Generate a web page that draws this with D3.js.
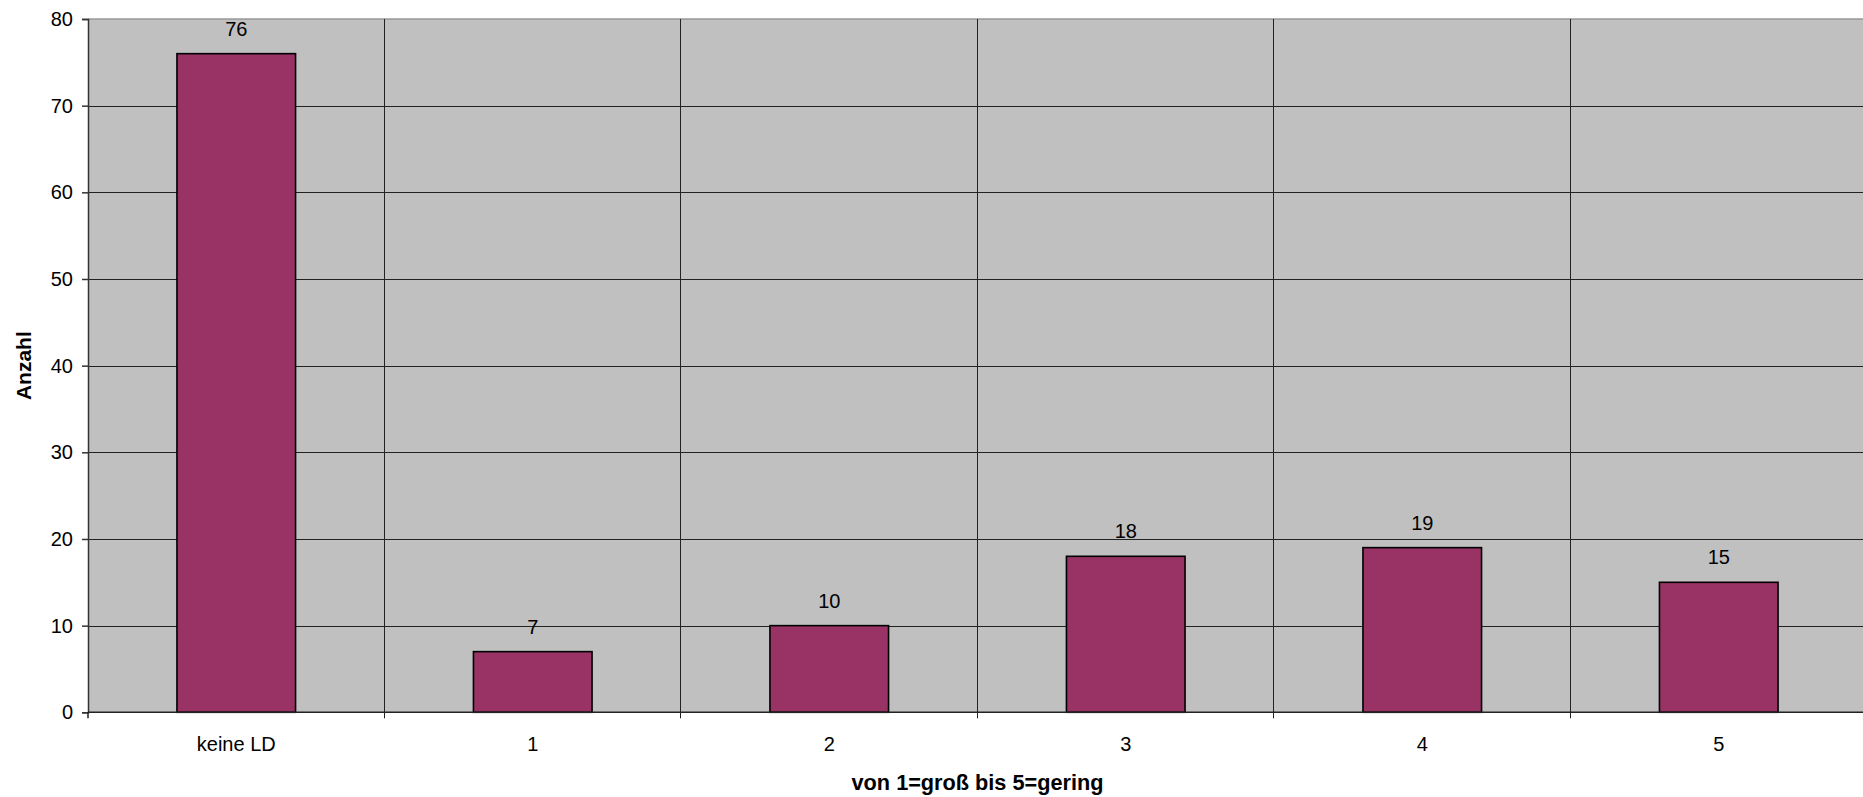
<!DOCTYPE html>
<html>
<head>
<meta charset="utf-8">
<script src="https://cdn.jsdelivr.net/npm/d3@7"></script>
<style>
  html, body { margin: 0; padding: 0; background: #fff; }
  svg { display: block; }
  text { font-family: "Liberation Sans", Arial, sans-serif; fill: #000; }
</style>
</head>
<body>
<script>
const categories = ["keine LD", "1", "2", "3", "4", "5"];
const values = [76, 7, 10, 18, 19, 15];
const yTicks = [0, 10, 20, 30, 40, 50, 60, 70, 80];
const xTitle = "von 1=groß bis 5=gering";
const yTitle = "Anzahl";

const W = 1863, H = 797;
const pLeft = 88, pRight = 1867, pTop = 19, pBottom = 712.3;

const svg = d3.select("body").append("svg").attr("width", W).attr("height", H);

const x = d3.scaleBand().domain(categories).range([pLeft, pRight]).paddingInner(0.6).paddingOuter(0.3);
const xb = d3.scaleBand().domain(categories).range([pLeft, pRight]);
const y = d3.scaleLinear().domain([0, 80]).range([pBottom, pTop]);

// plot background
svg.append("rect").attr("x", pLeft).attr("y", pTop).attr("width", pRight - pLeft).attr("height", pBottom - pTop)
  .attr("fill", "#c0c0c0");

// top border
svg.append("line").attr("x1", pLeft).attr("x2", pRight).attr("y1", pTop).attr("y2", pTop)
  .attr("stroke", "#999").attr("stroke-width", 1.5);

// horizontal gridlines
svg.append("g").selectAll("line").data(yTicks.filter(d => d > 0 && d < 80)).join("line")
  .attr("x1", pLeft).attr("x2", pRight)
  .attr("y1", d => Math.round(y(d)) + 0.5).attr("y2", d => Math.round(y(d)) + 0.5)
  .attr("stroke", "#222").attr("stroke-width", 1);

// vertical gridlines at category boundaries, with ticks below axis
const bounds = categories.slice(1).map(c => xb(c));
svg.append("g").selectAll("line").data(bounds).join("line")
  .attr("x1", d => Math.round(d) - 0.5).attr("x2", d => Math.round(d) - 0.5)
  .attr("y1", pTop).attr("y2", pBottom + 6)
  .attr("stroke", "#222").attr("stroke-width", 1);

// bars
svg.append("g").selectAll("rect").data(values).join("rect")
  .attr("x", (d, i) => x(categories[i]))
  .attr("y", d => y(d))
  .attr("width", x.bandwidth())
  .attr("height", d => y(0) - y(d))
  .attr("fill", "#993366")
  .attr("stroke", "#000").attr("stroke-width", 1.6);

// value labels
svg.append("g").selectAll("text").data(values).join("text")
  .attr("x", (d, i) => x(categories[i]) + x.bandwidth() / 2)
  .attr("y", d => y(d) - 18)
  .attr("text-anchor", "middle")
  .style("font-size", "20px")
  .text(d => d);

// y axis
const yAxis = d3.axisLeft(y).tickValues(yTicks).tickSize(6).tickPadding(9);
const gy = svg.append("g").attr("transform", `translate(${pLeft},0)`).call(yAxis);
gy.select(".domain").attr("stroke", "#333").attr("stroke-width", 1.5);
gy.selectAll(".tick line").attr("stroke", "#333").attr("stroke-width", 1.5);
gy.selectAll(".tick text").style("font-size", "20px").attr("fill", "#000")
  .style("font-family", "'Liberation Sans', Arial, sans-serif");

// x axis
const xAxis = d3.axisBottom(x).tickSize(0).tickPadding(0);
const gx = svg.append("g").attr("transform", `translate(0,${pBottom})`).call(xAxis);
gx.select(".domain").remove();
gx.selectAll(".tick text").attr("dy", null).attr("y", 39).style("font-size", "20px")
  .attr("fill", "#000").style("font-family", "'Liberation Sans', Arial, sans-serif");
svg.append("line").attr("x1", pLeft).attr("x2", pRight).attr("y1", pBottom).attr("y2", pBottom)
  .attr("stroke", "#222").attr("stroke-width", 1.5);
svg.append("line").attr("x1", pLeft).attr("x2", pLeft).attr("y1", pBottom).attr("y2", pBottom + 6)
  .attr("stroke", "#222").attr("stroke-width", 1.5);

// axis titles
svg.append("text").attr("x", (pLeft + pRight) / 2).attr("y", 790)
  .attr("text-anchor", "middle").style("font-size", "21.7px").style("font-weight", "bold")
  .text(xTitle);
svg.append("text").attr("transform", `translate(31,${(pTop + pBottom) / 2}) rotate(-90)`)
  .attr("text-anchor", "middle").style("font-size", "21px").style("font-weight", "bold")
  .text(yTitle);
</script>
</body>
</html>
